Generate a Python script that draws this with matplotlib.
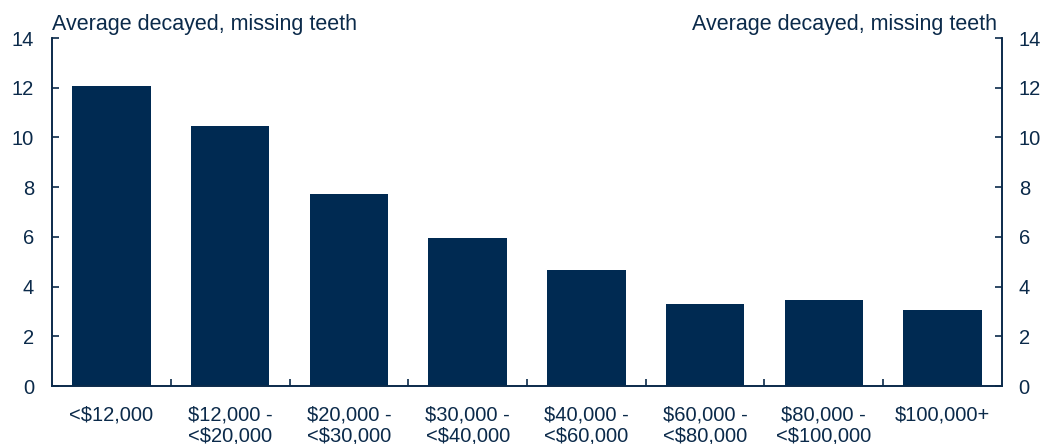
import matplotlib.pyplot as plt
import numpy as np

plt.rcParams['font.family'] = ['Liberation Sans', 'DejaVu Sans']

categories = ['<$12,000', '$12,000 -\n<$20,000', '$20,000 -\n<$30,000', '$30,000 -\n<$40,000',
              '$40,000 -\n<$60,000', '$60,000 -\n<$80,000', '$80,000 -\n<$100,000', '$100,000+']
values = [12.05, 10.45, 7.72, 5.95, 4.67, 3.30, 3.46, 3.06]
yticks = [0, 2, 4, 6, 8, 10, 12, 14]

bar_color = '#002A52'
text_color = '#0B2A4A'

fig = plt.figure(figsize=(10.47, 4.44), dpi=100)
ax = fig.add_axes([0.0497, 0.1306, 0.9073, 0.7838])

x = np.arange(len(categories))
ax.bar(x, values, width=0.66, color=bar_color)

ax.set_xlim(-0.5, len(categories) - 0.5)
ax.set_ylim(0, 14)
ax.set_yticks(yticks)
ax.set_yticklabels([str(t) for t in yticks])

# right-hand mirror axis
ax2 = ax.twinx()
ax2.set_ylim(0, 14)
ax2.set_yticks(yticks)
ax2.set_yticklabels([str(t) for t in yticks])

for a in (ax, ax2):
    a.spines['top'].set_visible(False)
    for side in ('left', 'right', 'bottom'):
        a.spines[side].set_color(text_color)
        a.spines[side].set_linewidth(1.2)

ax.tick_params(axis='y', direction='in', length=5, width=1.2, color=text_color,
               labelsize=14.5, labelcolor=text_color, pad=13)
ax2.tick_params(axis='y', direction='in', length=5, width=1.2, color=text_color,
                labelsize=14.5, labelcolor=text_color, pad=12)

# x ticks at category boundaries, labels centered on bars
ax.set_xticks(np.arange(len(categories) - 1) + 0.5)
ax.set_xticklabels([])
ax.tick_params(axis='x', direction='in', length=5, width=1.2, color=text_color)
ax.set_xticks(x, minor=True)
ax.set_xticklabels(categories, minor=True)
ax.tick_params(axis='x', which='minor', length=0, labelsize=14.5, labelcolor=text_color, pad=14)
for lbl in ax.get_xticklabels(minor=True):
    lbl.set_linespacing(1.12)

fig.text(0.0497, 0.922, 'Average decayed, missing teeth', fontsize=15.5, color=text_color,
         ha='left', va='bottom')
fig.text(0.952, 0.922, 'Average decayed, missing teeth', fontsize=15.5, color=text_color,
         ha='right', va='bottom')

fig.savefig('out.png', dpi=100)
